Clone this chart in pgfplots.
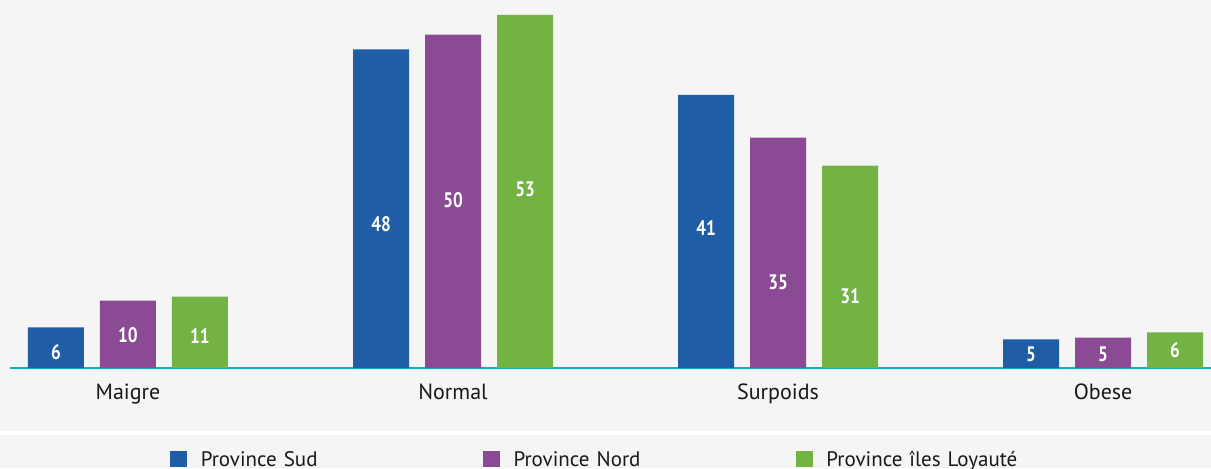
\documentclass[border=0pt]{standalone}
\usepackage{pgfplots}
\pgfplotsset{compat=1.18}
\usepackage{fontspec}
\setmainfont{PT Sans}
\usetikzlibrary{backgrounds}
\definecolor{cSud}{RGB}{31,93,166}
\definecolor{cNord}{RGB}{139,74,148}
\definecolor{cIles}{RGB}{114,179,68}
\definecolor{bgc}{RGB}{245,245,245}
\definecolor{axc}{RGB}{20,170,210}
\begin{document}
\begin{tikzpicture}
\begin{axis}[
  at={(0,0)}, anchor=south west,
  scale only axis, width=600.5pt, height=184pt,
  xmin=-0.363, xmax=3.332, ymin=0, ymax=55.25,
  axis x line=bottom, axis y line=none,
  x axis line style={draw=axc, line width=0.9pt, -},
  xtick={0,1,2,3}, xticklabels={Maigre,Normal,Surpoids,Obese},
  major tick length=0pt,
  xticklabel style={anchor=base, yshift=-15.5pt, inner sep=0pt, font=\fontsize{11}{13}\selectfont, text=black!90},
  clip=false,
  legend columns=3,
  legend style={at={(rel axis cs:0,0)}, anchor=west, xshift=80pt, yshift=-45.25pt,
    draw=none, fill=none, inner sep=0pt, outer sep=0pt,
    nodes={inner sep=0pt, text width=141pt, text height=7.5pt, text depth=0pt, align=left, font=\fontsize{10.5}{12}\selectfont, text=black!90},
    cells={anchor=base west}},
  every node near coord/.append style={anchor=center, font=\fontsize{10.5}{12}\selectfont\bfseries, text=white, xscale=0.82, transform shape},
]
\addplot[ybar, bar width=28pt, bar shift=-36pt, fill=cSud, draw=none, forget plot]
  coordinates {(0,6.1) (1,47.85) (2,41.0) (3,4.3)};
\addplot[ybar, bar width=28pt, bar shift=0pt, fill=cNord, draw=none, forget plot]
  coordinates {(0,10.1) (1,50.05) (2,34.6) (3,4.55)};
\addplot[ybar, bar width=28pt, bar shift=36pt, fill=cIles, draw=none, forget plot]
  coordinates {(0,10.7) (1,53) (2,30.4) (3,5.36)};
% value labels
\addplot[only marks, mark=none, nodes near coords, point meta=explicit symbolic, forget plot]
  table[meta=lab] {
x y lab
-0.2215 2.4 6
0.7785 21.6 48
1.7785 21.0 41
2.7785 2.0 5
};
\addplot[only marks, mark=none, nodes near coords, point meta=explicit symbolic, forget plot]
  table[meta=lab] {
x y lab
0 5.0 10
1 25.2 50
2 12.9 35
3 2.0 5
};
\addplot[only marks, mark=none, nodes near coords, point meta=explicit symbolic, forget plot]
  table[meta=lab] {
x y lab
0.2215 4.8 11
1.2215 26.9 53
2.2215 10.8 31
3.2215 2.7 6
};
\addlegendimage{legend image code/.code={\fill[cSud] (0pt,0pt) rectangle (8pt,7.5pt); \path (15pt,0pt);}}
\addlegendentry{Province Sud}
\addlegendimage{legend image code/.code={\fill[cNord] (0pt,0pt) rectangle (8pt,7.5pt); \path (15pt,0pt);}}
\addlegendentry{Province Nord}
\addlegendimage{legend image code/.code={\fill[cIles] (0pt,0pt) rectangle (8pt,7.5pt); \path (15pt,0pt);}}
\addlegendentry{Province îles Loyauté}
\end{axis}
\begin{scope}[on background layer]
\fill[bgc] (-5pt,-31.5pt) rectangle (600.5pt,184pt);
\fill[white] (-5pt,-33.5pt) rectangle (600.5pt,-31.5pt);
\fill[bgc] (-5pt,-33.5pt) rectangle (600.5pt,-50pt);
\end{scope}
\pgfresetboundingbox
\useasboundingbox (-5pt,-50pt) rectangle (600.5pt,184pt);
\end{tikzpicture}
\end{document}
